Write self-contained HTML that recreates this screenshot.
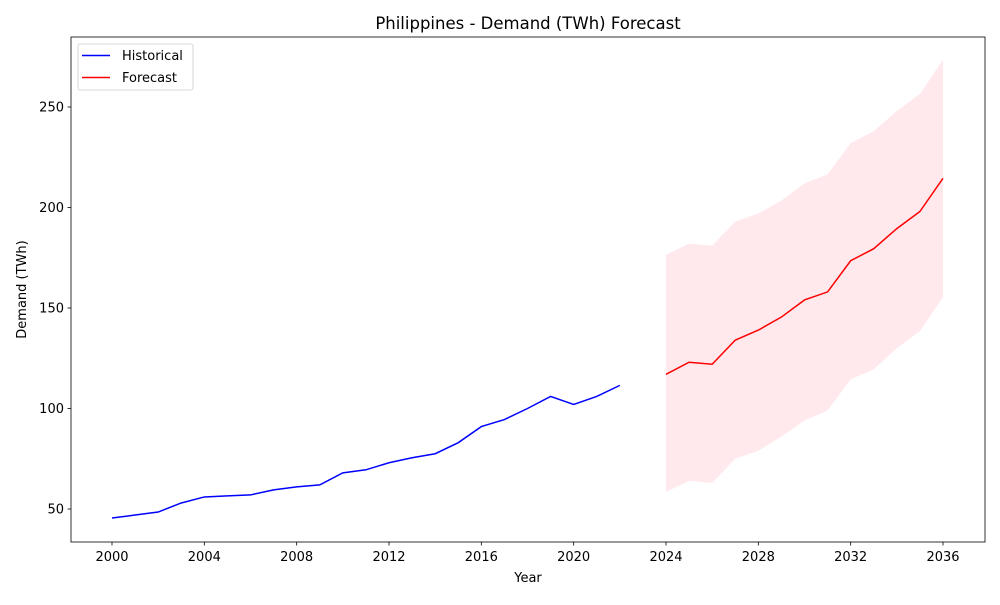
<!DOCTYPE html>
<html><head><meta charset="utf-8"><style>
body{margin:0;background:#fff;font-family:"Liberation Sans","DejaVu Sans",sans-serif}
svg text{font-family:"DejaVu Sans","Liberation Sans",sans-serif}
</style></head><body>
<svg id="chart" width="1000" height="600" xmlns="http://www.w3.org/2000/svg"></svg>
<script>
const histYears=[2000,2001,2002,2003,2004,2005,2006,2007,2008,2009,2010,2011,2012,2013,2014,2015,2016,2017,2018,2019,2020,2021,2022];
const histValues=[45.5,47,48.5,53,56,56.5,57,59.5,61,62,68,69.5,73,75.5,77.5,83,91,94.5,100,106,102,106,111.5];
const fcYears=[2024,2025,2026,2027,2028,2029,2030,2031,2032,2033,2034,2035,2036];
const fcValues=[117,123,122,134,139,145.5,154,158,173.5,179.5,189.5,198,214.5];
const fcUpper=[176.5,182,181,193,197,203.5,212,216.5,232,238,248,256.5,273.5];
const fcLower=[58.5,64,63,75,79,86,94,99,114.5,119.5,130,138.5,155.5];
const xTicks=[2000,2004,2008,2012,2016,2020,2024,2028,2032,2036];
const yTicks=[50,100,150,200,250];

const NS='http://www.w3.org/2000/svg';
const svg=document.getElementById('chart');
const L=71,R=985,T=37,B=542;
const x=v=>112+(v-2000)*(831/36);
const y=v=>509-(v-50)*2.01;
function mk(tag,attrs,parent){const e=document.createElementNS(NS,tag);for(const k in attrs)e.setAttribute(k,attrs[k]);(parent||svg).appendChild(e);return e;}

const band=mk('path',{d:'M'+fcYears.map((yr,i)=>x(yr)+','+y(fcUpper[i])).join('L')+'L'+fcYears.slice().reverse().map((yr,i)=>x(yr)+','+y(fcLower[fcLower.length-1-i])).join('L')+'Z',fill:'#ffc0cb',opacity:'0.35'});


const hl=mk('polyline',{points:histYears.map((yr,i)=>x(yr)+','+y(histValues[i])).join(' '),fill:'none',stroke:'#0000ff','stroke-width':1.5});


const fl=mk('polyline',{points:fcYears.map((yr,i)=>x(yr)+','+y(fcValues[i])).join(' '),fill:'none',stroke:'#ff0000','stroke-width':1.5});



const frame=mk('rect',{x:L,y:T,width:R-L,height:B-T,fill:'none',stroke:'#000','stroke-width':0.8});



xTicks.forEach(t=>{
  mk('line',{x1:x(t),x2:x(t),y1:B,y2:B+3.5,stroke:'#000','stroke-width':0.8});
  const tx=mk('text',{x:x(t),y:B+19,'text-anchor':'middle','font-size':13});tx.textContent=t;
  
  
});
yTicks.forEach(t=>{
  mk('line',{x1:L-3.5,x2:L,y1:y(t),y2:y(t),stroke:'#000','stroke-width':0.8});
  const tx=mk('text',{x:L-7,y:y(t)+4.5,'text-anchor':'end','font-size':13});tx.textContent=t;
  
  
});
const xt=mk('text',{x:(L+R)/2,y:582,'text-anchor':'middle','font-size':13});xt.textContent='Year';


const yt=mk('text',{x:0,y:0,transform:'translate(26,'+((T+B)/2)+') rotate(-90)','text-anchor':'middle','font-size':13});yt.textContent='Demand (TWh)';


const title=mk('text',{x:(L+R)/2,y:29,'text-anchor':'middle','font-size':16.5});title.textContent='Philippines - Demand (TWh) Forecast';



const lg=mk('g',{});


mk('rect',{x:78,y:44,width:115,height:46,rx:2,fill:'#fff',stroke:'#ccc','stroke-width':0.8},lg);
[['Historical','#0000ff',60],['Forecast','#ff0000',82]].forEach(([n,c,yy])=>{
  mk('line',{x1:82,x2:110,y1:yy-4.5,y2:yy-4.5,stroke:c,'stroke-width':1.5},lg);
  const t=mk('text',{x:122,y:yy,'font-size':13},lg);t.textContent=n;
  
  
});
</script>
</body></html>
